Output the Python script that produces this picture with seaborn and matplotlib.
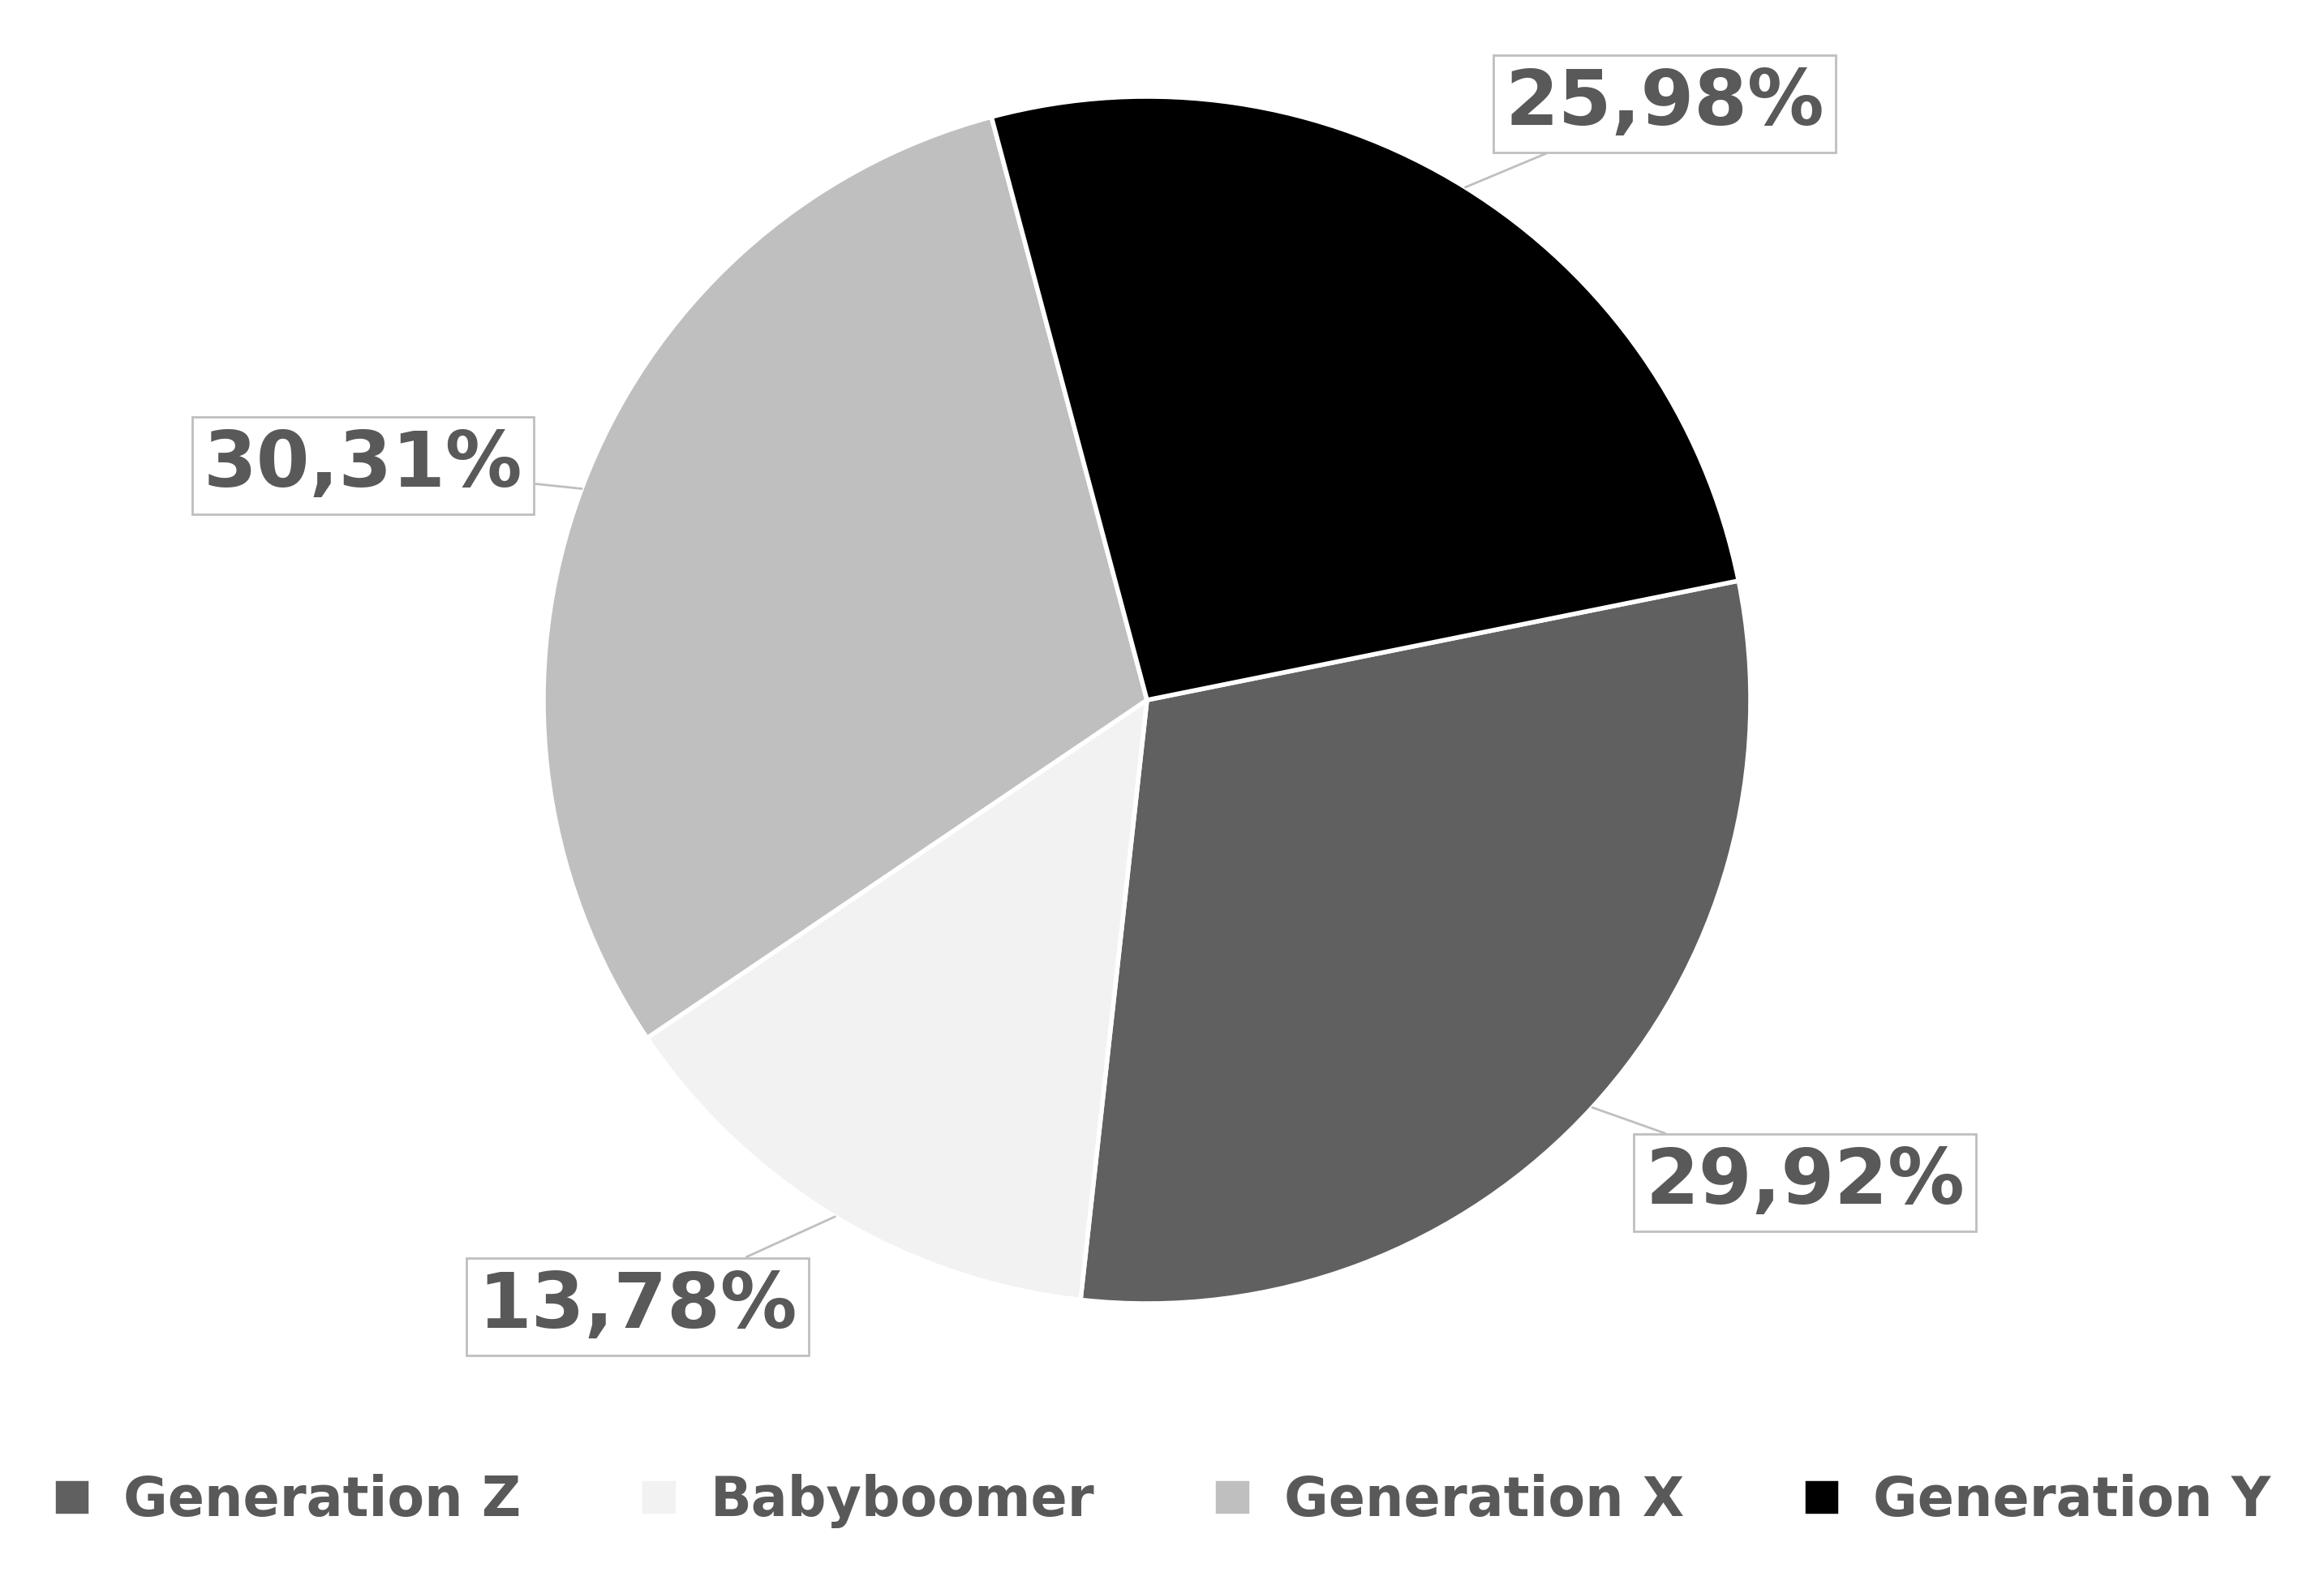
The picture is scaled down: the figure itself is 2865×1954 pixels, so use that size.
import numpy as np
import matplotlib
matplotlib.use("Agg")
import matplotlib.pyplot as plt
import seaborn as sns

# data
generations = ["Generation Z", "Babyboomer", "Generation X", "Generation Y"]
shares = [29.92, 13.78, 30.31, 25.98]
share_labels = ["29,92%", "13,78%", "30,31%", "25,98%"]
slice_colors = ["#606060", "#f2f2f2", "#bfbfbf", "#000000"]

sns.set_theme(style="white")
plt.rcParams["font.family"] = ["DejaVu Sans"]

W, H = 2865, 1954
fig = plt.figure(figsize=(W / 100, H / 100), dpi=100)
R = 744
cx, cy = 1414, H - 863
ax = fig.add_axes([(cx - 2 * R) / W, (cy - 2 * R) / H, 4 * R / W, 4 * R / H])

wedges, _ = ax.pie(shares, colors=slice_colors, startangle=11.4, counterclock=False,
                   wedgeprops=dict(edgecolor="white", linewidth=4))
ax.set_xlim(-2, 2)
ax.set_ylim(-2, 2)
ax.axis("off")

# label box positions (data coords, pie radius = 1)
label_pos = [(1.09, -0.80), (-0.844, -1.005), (-1.299, 0.388), (0.858, 0.988)]
for w, txt, pos in zip(wedges, share_labels, label_pos):
    ang = np.deg2rad((w.theta1 + w.theta2) / 2)
    edge = (np.cos(ang), np.sin(ang))
    ax.annotate(txt, xy=edge, xytext=pos, ha="center", va="center",
                fontsize=68, fontweight="bold", color="#595959",
                bbox=dict(boxstyle="square,pad=0.15", fc="white", ec="#bfbfbf", lw=2),
                arrowprops=dict(arrowstyle="-", color="#bfbfbf", lw=2,
                                shrinkA=0, shrinkB=0))

fig.legend(wedges, generations, loc="lower center", bbox_to_anchor=(0.5, 0.005),
           ncol=4, frameon=False, fontsize=48, handlelength=0.7, handleheight=0.7,
           columnspacing=2.2, handletextpad=0.6,
           prop=dict(size=48, weight="bold"), labelcolor="#595959")

fig.savefig("out.png", dpi=100)
